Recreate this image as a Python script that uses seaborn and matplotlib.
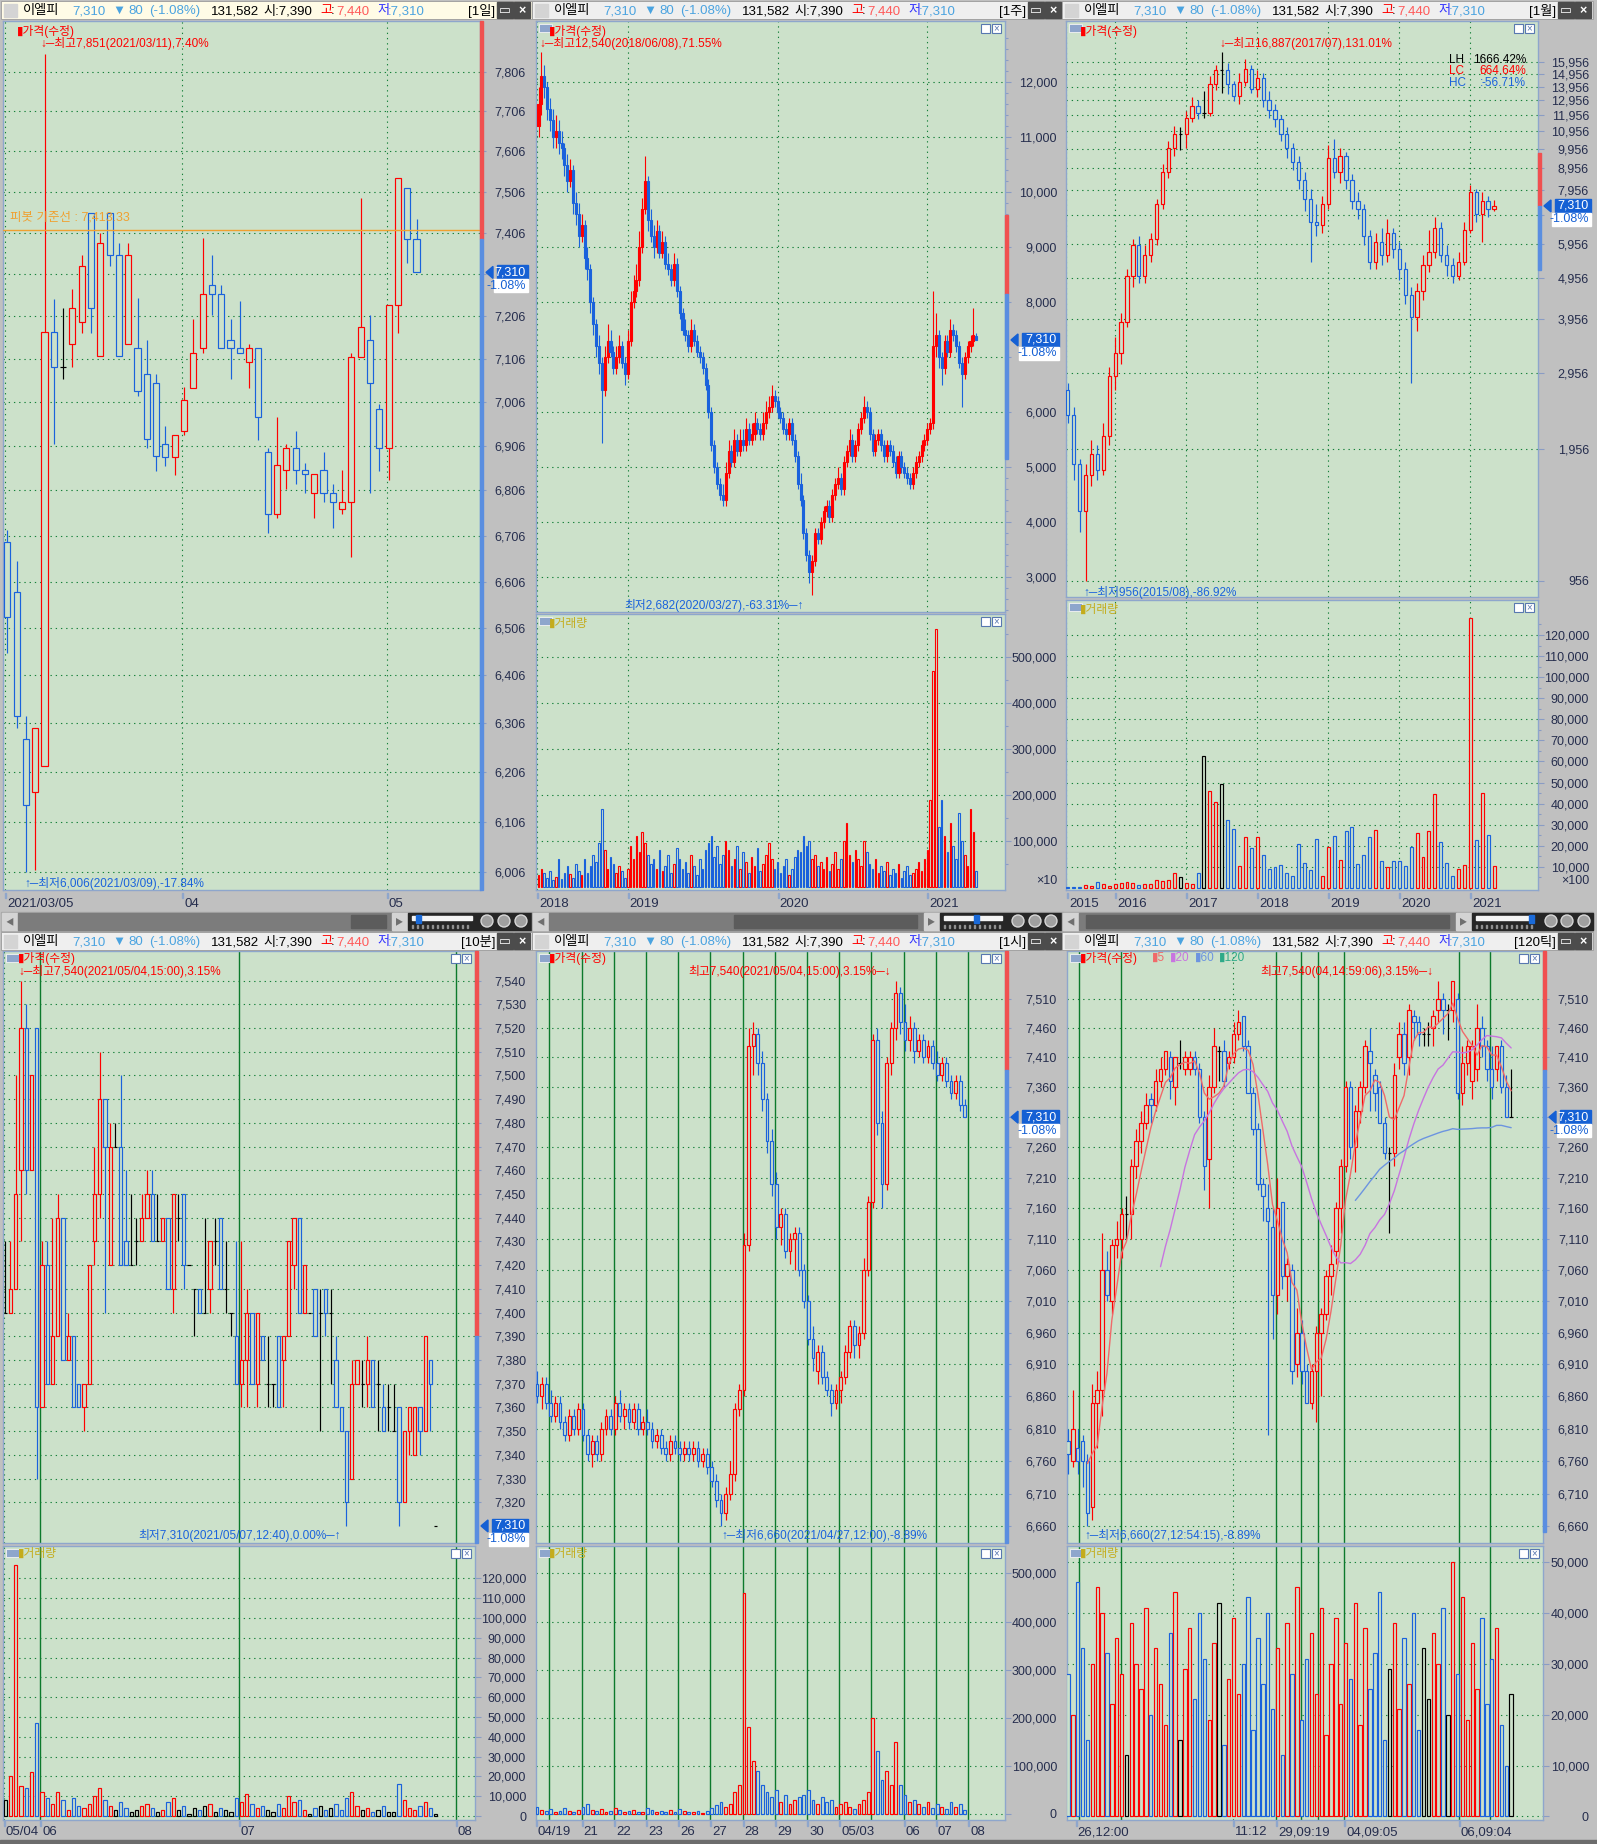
import numpy as np
import pandas as pd
import matplotlib
matplotlib.use("Agg")
import matplotlib.pyplot as plt
from matplotlib.patches import Rectangle, Polygon, Ellipse
from matplotlib.ticker import FixedLocator, FixedFormatter, NullFormatter, NullLocator
import seaborn as sns

# ---------------- data: daily (1일) ----------------
d_open = [6693, 6584, 6274, 6165, 6218, 7168, 7088, 7140, 7193, 7453, 7112, 7453, 7352, 7140, 7130,
          7070, 7051, 6910, 6880, 6940, 7039, 7130, 7280, 7258, 7150, 7130, 7099, 7130, 6892, 6754,
          6852, 6902, 6852, 6800, 6852, 6800, 6764, 6781, 7109, 7150, 6990, 6902, 7232, 7515, 7390]
d_high = [6719, 6650, 6322, 6296, 7851, 7246, 7226, 7270, 7352, 7453, 7405, 7453, 7380, 7380, 7250,
          7150, 7070, 6951, 6931, 7040, 7200, 7393, 7352, 7280, 7200, 7242, 7140, 7130, 6902, 6972,
          6910, 6940, 6868, 6843, 6892, 6820, 6852, 7120, 7490, 7209, 7002, 7232, 7539, 7515, 7440]
d_low = [6454, 6296, 6006, 6010, 6218, 6911, 7060, 7088, 7166, 7166, 7112, 7325, 7112, 7140, 7021,
         6902, 6850, 6860, 6840, 6930, 7039, 7120, 7209, 7130, 7060, 7120, 7039, 6920, 6712, 6745,
         6810, 6820, 6800, 6745, 6780, 6722, 6753, 6660, 7109, 6800, 6850, 6830, 7166, 7333, 7310]
d_close = [6530, 6322, 6139, 6296, 7168, 7088, 7088, 7226, 7325, 7226, 7380, 7352, 7112, 7352, 7031,
           6922, 6883, 6880, 6931, 7010, 7120, 7258, 7258, 7130, 7130, 7120, 7130, 6972, 6754, 6863,
           6902, 6852, 6843, 6843, 6800, 6781, 6781, 7109, 7180, 7051, 6902, 7232, 7539, 7390, 7310]
d_ticks = list(range(6006, 7807, 100))
d_xlabels = [("2021/03/05", -0.2), ("04", 18.8), ("05", 40.8)]

# ---------------- data: weekly (1주) ----------------
wk_open = [11200, 11600, 12100, 11900, 11500, 11300, 11000, 11100, 10900, 10800,
           10500, 10200, 10400, 9800, 9600, 9200, 9400, 8800, 8600, 8000,
           7600, 7200, 6900, 6400, 7000, 7300, 7100, 6800, 7000, 7200,
           6900, 6700, 7300, 8000, 8200, 8400, 9000, 9700, 10200, 9500,
           9200, 9000, 9300, 8900, 9100, 8700, 8600, 8400, 8700, 8200,
           7800, 7500, 7400, 7200, 7500, 7300, 7100, 7000, 6800, 6500,
           6000, 5400, 5000, 4700, 4500, 4400, 4900, 5300, 5100, 5500,
           5300, 5500, 5400, 5700, 5500, 5600, 5800, 5700, 5600, 5800,
           6000, 6100, 6300, 6200, 6000, 5900, 5700, 5600, 5800, 5500,
           5200, 4700, 4400, 3800, 3400, 3100, 3300, 3800, 3700, 4000,
           4200, 4300, 4100, 4500, 4700, 4800, 4600, 5100, 5300, 5500,
           5200, 5400, 5700, 5900, 6100, 6000, 5600, 5300, 5500, 5600,
           5400, 5200, 5400, 5300, 5100, 4900, 5200, 5000, 4900, 4800,
           4700, 4900, 5100, 5200, 5400, 5500, 5700, 5800, 7200, 7400,
           7000, 6800, 7300, 7100, 7500, 7400, 7200, 6900, 6700, 7000,
           7200, 7300, 7390]
wk_high = [11900, 12540, 12300, 12000, 11700, 11500, 11400, 11300, 11100, 10900,
           10700, 10600, 10500, 10000, 9800, 9600, 9500, 9000, 8700, 8100,
           7700, 7400, 7000, 7200, 7600, 7500, 7200, 7200, 7400, 7300,
           7000, 7500, 8200, 8500, 8700, 9300, 9900, 10650, 10300, 9700,
           9400, 9500, 9400, 9300, 9200, 8900, 8700, 8900, 8800, 8300,
           7900, 7700, 7500, 7700, 7600, 7400, 7200, 7100, 6900, 6600,
           6100, 5500, 5100, 4800, 4700, 5100, 5500, 5400, 5700, 5600,
           5700, 5700, 5900, 5800, 5800, 6000, 5900, 5800, 6000, 6200,
           6300, 6500, 6400, 6300, 6100, 6000, 5800, 5900, 5900, 5600,
           5300, 4900, 4500, 3900, 3500, 3400, 3900, 3900, 4100, 4300,
           4400, 4400, 4600, 4800, 5000, 4900, 5200, 5400, 5700, 5600,
           5500, 5800, 6000, 6300, 6200, 6100, 5700, 5600, 5700, 5700,
           5500, 5500, 5500, 5400, 5200, 5300, 5300, 5100, 5000, 4900,
           5000, 5200, 5300, 5500, 5600, 5800, 5900, 8200, 7800, 7500,
           7100, 7400, 7400, 7700, 7600, 7500, 7300, 7000, 7100, 7300,
           7400, 7900, 7440]
wk_low = [11000, 11400, 11700, 11300, 11100, 10800, 10800, 10700, 10600, 10300,
          10000, 10100, 9600, 9400, 9000, 9100, 8600, 8400, 7800, 7400,
          7000, 6700, 5430, 6300, 6900, 7000, 6700, 6700, 6900, 6800,
          6500, 6600, 7200, 7900, 8100, 8300, 8900, 9600, 9300, 9100,
          8800, 8900, 8800, 8800, 8600, 8500, 8300, 8300, 8100, 7700,
          7400, 7300, 7100, 7100, 7200, 7000, 6900, 6700, 6400, 5900,
          5300, 4900, 4600, 4400, 4300, 4300, 4800, 5000, 5000, 5200,
          5200, 5300, 5300, 5400, 5400, 5500, 5600, 5500, 5500, 5700,
          5900, 6000, 6100, 5900, 5800, 5600, 5500, 5500, 5400, 5100,
          4600, 4300, 3700, 3300, 2900, 2682, 3200, 3600, 3600, 3900,
          4100, 4000, 4000, 4400, 4600, 4500, 4500, 5000, 5200, 5100,
          5100, 5300, 5600, 5800, 5900, 5500, 5200, 5200, 5400, 5300,
          5100, 5100, 5200, 5000, 4800, 4800, 4900, 4800, 4700, 4600,
          4600, 4800, 5000, 5100, 5300, 5400, 5600, 5700, 7000, 6800,
          6500, 6700, 7000, 7000, 7300, 7100, 6800, 6100, 6600, 6900,
          7100, 7200, 7310]
wk_close = [11600, 12100, 11900, 11500, 11300, 11000, 11100, 10900, 10800, 10500,
            10200, 10400, 9800, 9600, 9200, 9400, 8800, 8600, 8000, 7600,
            7200, 6900, 6400, 7000, 7300, 7100, 6800, 7000, 7200, 6900,
            6700, 7300, 8000, 8200, 8400, 9000, 9700, 10200, 9500, 9200,
            9000, 9300, 8900, 9100, 8700, 8600, 8400, 8700, 8200, 7800,
            7500, 7400, 7200, 7500, 7300, 7100, 7000, 6800, 6500, 6000,
            5400, 5000, 4700, 4500, 4400, 4900, 5300, 5100, 5500, 5300,
            5500, 5400, 5700, 5500, 5600, 5800, 5700, 5600, 5800, 6000,
            6100, 6300, 6200, 6000, 5900, 5700, 5600, 5800, 5500, 5200,
            4700, 4400, 3800, 3400, 3100, 3300, 3800, 3700, 4000, 4200,
            4300, 4100, 4500, 4700, 4800, 4600, 5100, 5300, 5500, 5200,
            5400, 5700, 5900, 6100, 6000, 5600, 5300, 5500, 5600, 5400,
            5200, 5400, 5300, 5100, 4900, 5200, 5000, 4900, 4800, 4700,
            4900, 5100, 5200, 5400, 5500, 5700, 5800, 7200, 7400, 7000,
            6800, 7300, 7100, 7500, 7400, 7200, 6900, 6700, 7000, 7200,
            7300, 7400, 7310]
wk_vol = [25000, 40000, 30000, 20000, 35000, 15000, 22000, 60000, 18000, 30000,
          45000, 28000, 20000, 50000, 35000, 25000, 60000, 30000, 45000, 70000,
          55000, 95000, 170000, 80000, 40000, 65000, 50000, 30000, 45000, 35000,
          20000, 40000, 90000, 60000, 110000, 75000, 120000, 95000, 70000, 50000,
          60000, 40000, 80000, 35000, 45000, 70000, 30000, 50000, 85000, 60000,
          40000, 55000, 30000, 70000, 45000, 25000, 60000, 40000, 80000, 95000,
          110000, 65000, 90000, 50000, 70000, 100000, 80000, 45000, 60000, 90000,
          40000, 75000, 55000, 30000, 65000, 45000, 85000, 35000, 50000, 70000,
          95000, 60000, 40000, 55000, 30000, 45000, 60000, 25000, 40000, 65000,
          80000, 75000, 110000, 90000, 100000, 60000, 70000, 45000, 55000, 40000,
          65000, 35000, 50000, 75000, 40000, 60000, 100000, 140000, 70000, 55000,
          80000, 60000, 45000, 100000, 75000, 50000, 40000, 60000, 30000, 45000,
          35000, 55000, 25000, 40000, 30000, 50000, 20000, 35000, 45000, 25000,
          30000, 40000, 55000, 35000, 60000, 80000, 190000, 470000, 560000, 130000,
          190000, 110000, 75000, 140000, 90000, 60000, 160000, 100000, 70000, 45000,
          170000, 120000, 35000]
wk_ticks = list(range(3000, 12001, 1000))
wk_vticks = [100000, 200000, 300000, 400000, 500000]
wk_xlabels = [("2018", -0.5), ("2019", 31), ("2020", 83), ("2021", 135)]

# ---------------- data: monthly (1월) ----------------
mo_open = [2700, 2350, 1800, 1400, 1700, 1900, 1750, 2100, 2900, 3300,
           3900, 5000, 5900, 5000, 5600, 6100, 7400, 8800, 10000, 10800,
           10800, 11800, 12600, 12100, 12100, 14200, 15300, 15300, 14200, 13300,
           14300, 15400, 13800, 14600, 13000, 12300, 11700, 10800, 10000, 9300,
           8400, 7600, 6700, 6600, 7400, 9500, 8800, 9600, 8400, 7500,
           7200, 6200, 5400, 6000, 5600, 6300, 5800, 5200, 4500, 4000,
           4600, 5300, 5700, 6500, 5600, 5300, 5000, 5400, 6400, 7900,
           7000, 7500, 7200]
mo_high = [2800, 2450, 1850, 1800, 2050, 2000, 2250, 3050, 3600, 4100,
           5200, 6100, 6200, 5900, 6300, 7600, 9200, 10400, 11300, 11200,
           12200, 13200, 13000, 13600, 14800, 15700, 16887, 15900, 14400, 15000,
           16200, 15700, 15300, 15000, 13600, 12700, 12000, 11200, 10300, 9600,
           8800, 8000, 7400, 7700, 10200, 10500, 10000, 9800, 8700, 7900,
           7400, 6400, 6300, 6500, 6800, 6500, 6000, 5400, 4700, 4800,
           5600, 6400, 6900, 6700, 5900, 5500, 5700, 6700, 8200, 8000,
           7900, 7700, 7540]
mo_low = [2250, 1650, 1250, 956, 1600, 1650, 1700, 2000, 2700, 3100,
          3800, 4700, 4800, 4800, 5400, 5900, 7200, 8500, 9600, 9900,
          10000, 11500, 11700, 11800, 11900, 13700, 13500, 13400, 12900, 12700,
          14000, 13500, 13200, 12500, 11800, 11200, 10400, 9500, 8900, 8000,
          7100, 5400, 6200, 6300, 7200, 8500, 8300, 8000, 7200, 6800,
          5900, 5200, 5200, 5300, 5400, 5500, 4900, 4300, 2800, 3700,
          4400, 5100, 5500, 5400, 5000, 4800, 4900, 5300, 6300, 6700,
          6006, 6900, 7100]
mo_close = [2350, 1800, 1400, 1700, 1900, 1750, 2100, 2900, 3300, 3900,
            5000, 5900, 5000, 5600, 6100, 7400, 8800, 10000, 10800, 10800,
            11800, 12600, 12100, 12100, 14200, 15300, 15300, 14200, 13300, 14300,
            15400, 13800, 14600, 13000, 12300, 11700, 10800, 10000, 9300, 8400,
            7600, 6700, 6600, 7400, 9500, 8800, 9600, 8400, 7500, 7200,
            6200, 5400, 6000, 5600, 6300, 5800, 5200, 4500, 4000, 4600,
            5300, 5700, 6500, 5600, 5300, 5000, 5400, 6400, 7900, 7000,
            7500, 7200, 7310]
mo_vol = [300, 400, 500, 1500, 800, 2700, 2000, 1000, 1700, 2300,
          3000, 2300, 1400, 1700, 1700, 3600, 3300, 3600, 7000, 5000,
          2600, 1800, 7300, 62800, 45800, 40700, 49100, 32300, 28100, 10300,
          24300, 19000, 24300, 15800, 9000, 9800, 11000, 7200, 5900, 21000,
          12000, 8700, 23400, 5900, 19600, 24700, 13100, 27100, 29000, 11500,
          15800, 24300, 27600, 12600, 10000, 12900, 12900, 10300, 19600, 26300,
          14900, 26800, 44800, 22000, 12000, 5900, 9200, 11000, 128000, 22600,
          45000, 25300, 10300]
mo_ticks = [956 + 1000 * k for k in range(16)]
mo_vticks = list(range(10000, 120001, 10000))
mo_xlabels = [("2015", -0.2), ("2016", 8), ("2017", 20), ("2018", 32), ("2019", 44), ("2020", 56), ("2021", 68)]

# ---------------- data: 10 minute (10분) ----------------
m10_open = [7400, 7400, 7410, 7460, 7520, 7460, 7520, 7360, 7420, 7370,
            7390, 7440, 7380, 7390, 7370, 7360, 7370, 7430, 7450, 7490,
            7420, 7470, 7470, 7430, 7420, 7430, 7430, 7440, 7450, 7430,
            7430, 7440, 7410, 7440, 7450, 7420, 7410, 7410, 7400, 7410,
            7430, 7440, 7410, 7400, 7390, 7370, 7380, 7400, 7370, 7390,
            7370, 7370, 7390, 7380, 7390, 7420, 7440, 7400, 7400, 7410,
            7400, 7410, 7400, 7380, 7360, 7350, 7330, 7370, 7370, 7370,
            7380, 7370, 7360, 7360, 7350, 7360, 7320, 7350, 7340, 7360,
            7350, 7380, 7310]
m10_high = [7430, 7430, 7500, 7540, 7530, 7500, 7520, 7430, 7430, 7440,
            7450, 7440, 7400, 7390, 7370, 7370, 7420, 7470, 7510, 7490,
            7480, 7480, 7500, 7460, 7450, 7440, 7450, 7460, 7460, 7450,
            7440, 7440, 7450, 7450, 7450, 7420, 7410, 7410, 7440, 7430,
            7440, 7440, 7430, 7400, 7430, 7430, 7410, 7400, 7400, 7390,
            7390, 7370, 7390, 7390, 7430, 7440, 7440, 7420, 7400, 7410,
            7410, 7410, 7410, 7390, 7360, 7350, 7380, 7380, 7380, 7390,
            7380, 7380, 7370, 7370, 7370, 7360, 7350, 7360, 7360, 7360,
            7390, 7380, 7310]
m10_low = [7400, 7400, 7410, 7430, 7450, 7460, 7330, 7360, 7370, 7370,
           7390, 7380, 7380, 7360, 7360, 7350, 7370, 7420, 7440, 7400,
           7420, 7470, 7420, 7420, 7420, 7420, 7430, 7440, 7430, 7430,
           7430, 7410, 7400, 7430, 7410, 7420, 7390, 7400, 7400, 7400,
           7420, 7410, 7400, 7390, 7370, 7360, 7360, 7370, 7360, 7380,
           7360, 7360, 7360, 7360, 7390, 7410, 7400, 7400, 7400, 7390,
           7350, 7390, 7370, 7360, 7350, 7310, 7330, 7370, 7360, 7360,
           7360, 7350, 7350, 7350, 7350, 7310, 7320, 7340, 7340, 7340,
           7350, 7350, 7310]
m10_close = [7400, 7410, 7450, 7520, 7460, 7500, 7360, 7420, 7370, 7390,
             7440, 7380, 7390, 7360, 7360, 7370, 7420, 7450, 7490, 7470,
             7470, 7470, 7420, 7420, 7420, 7430, 7440, 7450, 7430, 7430,
             7440, 7410, 7450, 7440, 7420, 7420, 7410, 7400, 7400, 7430,
             7430, 7410, 7410, 7400, 7370, 7380, 7400, 7370, 7400, 7380,
             7370, 7370, 7360, 7390, 7430, 7440, 7400, 7420, 7400, 7390,
             7400, 7400, 7400, 7360, 7350, 7320, 7370, 7380, 7370, 7380,
             7360, 7370, 7350, 7360, 7350, 7320, 7350, 7360, 7360, 7350,
             7390, 7370, 7310]
m10_vol = [8000, 20000, 127000, 15000, 14000, 22000, 47000, 12000, 9000, 6000,
           12000, 8000, 3000, 9000, 5000, 4000, 6000, 10000, 14000, 8000,
           5000, 3000, 7000, 4000, 2000, 3000, 5000, 6000, 4000, 2000,
           3000, 7000, 9000, 3000, 5000, 1000, 4000, 3000, 5000, 6000,
           2000, 4000, 3000, 2000, 9000, 7000, 11000, 6000, 4000, 5000,
           3000, 2000, 6000, 4000, 10000, 7000, 8000, 3000, 1000, 4000,
           5000, 3000, 4000, 6000, 3000, 9000, 12000, 5000, 3000, 4000,
           2000, 3000, 5000, 2000, 2000, 16000, 8000, 4000, 3000, 5000,
           7000, 4000, 1000]
m10_ticks = list(range(7320, 7541, 10))
m10_vticks = [0] + list(range(10000, 120001, 10000))
m10_days = [6.7, 44.5, 85.8]
m10_xlabels = [("05/04", -0.4), ("06", 6.7), ("07", 44.5), ("08", 85.8)]

# ---------------- data: 1 hour (1시) ----------------
h1_open = [6880, 6860, 6880, 6850, 6830, 6850, 6820, 6800, 6830, 6810,
           6840, 6800, 6770, 6790, 6770, 6810, 6830, 6810, 6850, 6830,
           6840, 6820, 6840, 6810, 6820, 6810, 6790, 6800, 6780, 6770,
           6790, 6780, 6770, 6780, 6770, 6780, 6760, 6770, 6750, 6730,
           6700, 6680, 6710, 6740, 6840, 6870, 7100, 7430, 7450, 7400,
           7340, 7270, 7200, 7130, 7150, 7090, 7110, 7120, 7060, 7010,
           6950, 6900, 6930, 6890, 6870, 6850, 6870, 6890, 6930, 6970,
           6940, 6960, 7060, 7170, 7440, 7300, 7200, 7400, 7460, 7520,
           7470, 7440, 7460, 7420, 7440, 7410, 7430, 7400, 7380, 7400,
           7370, 7350, 7370, 7330]
h1_high = [6900, 6890, 6890, 6870, 6860, 6860, 6830, 6840, 6840, 6850,
           6850, 6810, 6800, 6800, 6820, 6840, 6840, 6860, 6870, 6850,
           6850, 6850, 6850, 6830, 6840, 6820, 6810, 6810, 6790, 6800,
           6800, 6790, 6790, 6790, 6790, 6790, 6780, 6780, 6760, 6740,
           6710, 6720, 6760, 6850, 6880, 7120, 7460, 7470, 7460, 7420,
           7350, 7290, 7220, 7160, 7160, 7120, 7130, 7130, 7070, 7020,
           6970, 6940, 6940, 6900, 6880, 6880, 6900, 6940, 6980, 6980,
           6970, 7080, 7180, 7450, 7460, 7320, 7410, 7470, 7540, 7530,
           7500, 7480, 7470, 7450, 7450, 7440, 7440, 7420, 7410, 7410,
           7380, 7380, 7380, 7340]
h1_low = [6850, 6840, 6840, 6820, 6820, 6810, 6790, 6790, 6800, 6800,
          6790, 6760, 6750, 6760, 6760, 6800, 6800, 6800, 6820, 6810,
          6810, 6810, 6800, 6800, 6800, 6780, 6780, 6770, 6760, 6760,
          6770, 6760, 6760, 6760, 6760, 6750, 6750, 6740, 6720, 6690,
          6660, 6670, 6700, 6730, 6830, 6860, 7090, 7380, 7380, 7320,
          7250, 7180, 7110, 7100, 7080, 7070, 7060, 7050, 7000, 6940,
          6900, 6880, 6880, 6860, 6830, 6840, 6850, 6880, 6920, 6920,
          6920, 6950, 7050, 7160, 7280, 7160, 7190, 7380, 7440, 7450,
          7420, 7420, 7400, 7410, 7400, 7400, 7390, 7370, 7370, 7360,
          7340, 7340, 7320, 7310]
h1_close = [6860, 6880, 6850, 6830, 6850, 6820, 6800, 6830, 6810, 6840,
            6800, 6770, 6790, 6770, 6810, 6830, 6810, 6850, 6830, 6840,
            6820, 6840, 6810, 6820, 6810, 6790, 6800, 6780, 6770, 6790,
            6780, 6770, 6780, 6770, 6780, 6760, 6770, 6750, 6730, 6700,
            6680, 6710, 6740, 6840, 6870, 7100, 7430, 7450, 7400, 7340,
            7270, 7200, 7130, 7150, 7090, 7110, 7120, 7060, 7010, 6950,
            6920, 6930, 6890, 6870, 6850, 6870, 6890, 6930, 6970, 6940,
            6960, 7060, 7170, 7440, 7300, 7200, 7400, 7460, 7520, 7470,
            7440, 7460, 7420, 7440, 7410, 7430, 7400, 7380, 7400, 7370,
            7350, 7370, 7330, 7310]
h1_vol = [15000, 8000, 6000, 10000, 5000, 7000, 12000, 6000, 4000, 9000,
          14000, 20000, 8000, 6000, 10000, 5000, 7000, 12000, 8000, 5000,
          6000, 9000, 4000, 5000, 12000, 8000, 5000, 6000, 4000, 9000,
          5000, 10000, 6000, 4000, 5000, 7000, 3000, 6000, 12000, 18000,
          25000, 15000, 20000, 45000, 60000, 460000, 180000, 110000, 90000, 60000,
          45000, 35000, 50000, 25000, 40000, 20000, 30000, 35000, 40000, 50000,
          30000, 20000, 35000, 25000, 30000, 15000, 20000, 25000, 15000, 10000,
          20000, 30000, 45000, 200000, 130000, 70000, 90000, 60000, 150000, 60000,
          40000, 25000, 30000, 20000, 15000, 25000, 12000, 20000, 15000, 10000,
          25000, 15000, 20000, 8000]
h1_ticks = list(range(6660, 7511, 50))
h1_vticks = [0, 100000, 200000, 300000, 400000, 500000]
h1_days = [3, 10, 17, 24, 31, 38, 45, 52, 59, 66, 73, 80, 87, 94]
h1_xlabels = [("04/19", -0.3), ("21", 9.7), ("22", 16.7), ("23", 23.7), ("26", 30.7), ("27", 37.7),
              ("28", 44.7), ("29", 51.7), ("30", 58.7), ("05/03", 65.7), ("06", 79.7), ("07", 86.7),
              ("08", 93.7)]

# ---------------- data: 120 tick (120틱) ----------------
tk_open = [6790, 6760, 6780, 6790, 6760, 6690, 6850, 6870, 7060, 7010,
           7100, 7110, 7150, 7150, 7230, 7270, 7300, 7340, 7330, 7370,
           7390, 7410, 7360, 7400, 7390, 7390, 7410, 7390, 7310, 7240,
           7360, 7420, 7420, 7400, 7410, 7450, 7480, 7430, 7350, 7290,
           7200, 7160, 7130, 7020, 7170, 7050, 7060, 6910, 6960, 6900,
           6850, 6900, 6960, 6990, 7050, 7090, 7160, 7230, 7360, 7260,
           7320, 7360, 7420, 7380, 7360, 7300, 7250, 7250, 7410, 7450,
           7410, 7480, 7470, 7450, 7450, 7460, 7490, 7510, 7490, 7490,
           7510, 7350, 7400, 7370, 7390, 7460, 7430, 7390, 7390, 7430,
           7360, 7310]
tk_high = [6810, 6870, 6810, 6800, 6770, 6880, 6900, 7120, 7090, 7110,
           7140, 7160, 7180, 7240, 7290, 7320, 7350, 7350, 7390, 7410,
           7420, 7420, 7410, 7440, 7420, 7420, 7420, 7400, 7320, 7380,
           7460, 7430, 7440, 7420, 7470, 7490, 7480, 7440, 7360, 7300,
           7210, 7200, 7160, 7210, 7170, 7080, 7070, 7000, 6980, 6910,
           6910, 6970, 7000, 7060, 7100, 7170, 7240, 7370, 7370, 7330,
           7370, 7440, 7460, 7390, 7370, 7310, 7260, 7400, 7470, 7470,
           7500, 7490, 7480, 7460, 7470, 7490, 7540, 7520, 7500, 7540,
           7520, 7430, 7440, 7440, 7500, 7480, 7440, 7430, 7430, 7440,
           7380, 7390]
tk_low = [6740, 6750, 6740, 6720, 6660, 6670, 6780, 6830, 7010, 6990,
          7080, 7080, 7110, 7110, 7210, 7250, 7290, 7300, 7320, 7360,
          7380, 7340, 7330, 7390, 7380, 7380, 7380, 7300, 7190, 7160,
          7350, 7370, 7360, 7390, 7400, 7440, 7420, 7360, 7280, 7190,
          7140, 6800, 6950, 6990, 7030, 7010, 6880, 6890, 6880, 6850,
          6840, 6820, 6860, 6980, 7020, 7070, 7120, 7220, 7240, 7220,
          7300, 7350, 7320, 7320, 7300, 7240, 7120, 7230, 7390, 7380,
          7380, 7440, 7430, 7430, 7430, 7430, 7470, 7450, 7440, 7470,
          7340, 7330, 7380, 7340, 7370, 7410, 7370, 7340, 7370, 7350,
          7310, 7310]
tk_close = [6770, 6810, 6760, 6760, 6680, 6850, 6870, 7060, 7020, 7100,
            7110, 7150, 7150, 7230, 7270, 7300, 7330, 7330, 7370, 7390,
            7420, 7370, 7410, 7400, 7410, 7410, 7390, 7310, 7230, 7360,
            7430, 7420, 7370, 7410, 7450, 7470, 7430, 7350, 7290, 7200,
            7180, 7140, 7020, 7160, 7050, 7070, 6900, 6960, 6900, 6850,
            6900, 6960, 6990, 7050, 7070, 7160, 7230, 7360, 7260, 7320,
            7360, 7430, 7400, 7350, 7300, 7250, 7250, 7380, 7450, 7400,
            7490, 7470, 7450, 7450, 7450, 7480, 7510, 7490, 7490, 7540,
            7350, 7400, 7430, 7430, 7460, 7430, 7390, 7360, 7430, 7360,
            7310, 7310]
tk_vol = [28000, 20000, 46000, 33000, 15000, 30000, 45000, 40000, 32000, 22000,
          35000, 28000, 12000, 38000, 30000, 25000, 41000, 20000, 33000, 26000,
          18000, 36000, 44000, 15000, 29000, 37000, 23000, 40000, 31000, 19000,
          34000, 42000, 14000, 27000, 39000, 24000, 30000, 43000, 17000, 35000,
          26000, 40000, 21000, 33000, 12000, 38000, 28000, 45000, 19000, 31000,
          36000, 24000, 41000, 16000, 30000, 39000, 22000, 34000, 27000, 42000,
          18000, 37000, 25000, 32000, 44000, 15000, 29000, 38000, 21000, 35000,
          26000, 40000, 17000, 33000, 23000, 36000, 30000, 41000, 20000, 50000,
          28000, 43000, 19000, 34000, 25000, 39000, 22000, 31000, 37000, 18000,
          10000, 24000]
tk_ticks = list(range(6660, 7511, 50))
tk_vticks = [0, 10000, 20000, 30000, 40000, 50000]
tk_days = [2.26, 10.9, 42.7, 47.8, 51.3, 56.7, 80.2, 86.6]
tk_xlabels = [("26,12:00", 1.6), ("11:12", 33.9), ("29,09:19", 42.7), ("04,09:05", 56.7), ("06,09:04", 80.2)]
ma_periods = [5, 20, 60]

# ---------------- style ----------------
W, H = 1597, 1844
BG = "#cce1ca"
GREY = "#c0c0c0"
RED = "#ff0000"
BLUE = "#1a62dc"
BLACK = "#000000"
TAGBLUE = "#1560d4"
HBLUE = "#4aa3e0"
NAVY = "#252d4d"
GRID = "#16803a"
DAYLINE = "#0c7a2c"
TICKC = "#8a9cc4"
BORDER = "#8ea6cc"
VOLTXT = "#c4ac1c"

sns.set_theme(style="white", rc={"figure.facecolor": GREY, "axes.facecolor": BG})
plt.rcParams["font.family"] = ["Liberation Sans", "Noto Sans CJK KR", "DejaVu Sans"]

fig = plt.figure(figsize=(W / 100, H / 100), dpi=100)
fig.patch.set_facecolor(GREY)


def rect(x, y, w, h, **kw):
    fig.add_artist(Rectangle((x / W, 1 - (y + h) / H), w / W, h / H, transform=fig.transFigure, **kw))


def ftext(x, y, s, **kw):
    kw.setdefault("va", "center")
    kw.setdefault("fontsize", 8.5)
    fig.text(x / W, 1 - y / H, s, **kw)


def make_ax(x0, y0, x1, y1, a, b):
    ax = fig.add_axes([x0 / W, 1 - y1 / H, (x1 - x0) / W, (y1 - y0) / H])
    ax.set_facecolor(BG)
    ax.set_xlim((x0 - a) / b, (x1 - a) / b)
    for s in ax.spines.values():
        s.set_color(BORDER)
        s.set_linewidth(1.0)
    ax.tick_params(bottom=False, labelbottom=False, left=False, labelleft=False)
    return ax


def yaxis(ax, lo, hi, ticks, x_right, lab_right, log=False, minor=(), hide=()):
    if log:
        ax.set_yscale("log")
    ax.set_ylim(lo, hi)
    ax.yaxis.set_major_locator(FixedLocator(ticks))
    ax.yaxis.set_minor_locator(FixedLocator(list(minor)) if len(minor) else NullLocator())
    ax.yaxis.set_major_formatter(FixedFormatter(["" if t in hide else f"{t:,}" for t in ticks]))
    ax.yaxis.set_minor_formatter(NullFormatter())
    ax.yaxis.tick_right()
    L = 4
    ax.tick_params(axis="y", which="both", right=True, labelright=True, left=False, labelleft=False,
                   direction="out", color=TICKC, width=0.8, length=L, labelsize=9, labelcolor=NAVY,
                   pad=(lab_right - x_right) * 0.72 - L)
    ax.tick_params(axis="y", which="minor", length=2.5)
    for t in ax.get_yticklabels():
        t.set_horizontalalignment("right")
    for t in ticks:
        if lo < t < hi:
            ax.axhline(t, color=GRID, lw=0.8, ls=(0, (1.2, 3.5)), zorder=1)


def vdots(ax, xs):
    for x in xs:
        ax.axvline(x, color=GRID, lw=0.8, ls=(0, (1.2, 3.5)), zorder=1)


def vsolid(ax, xs):
    for x in xs:
        ax.axvline(x, color=DAYLINE, lw=1.0, zorder=1)


def candles(ax, o, h, l, c, width, filled=False, lw=0.85):
    o, h, l, c = map(np.asarray, (o, h, l, c))
    x = np.arange(len(o))
    col = [RED if cc > oo else BLUE if cc < oo else BLACK for oo, cc in zip(o, c)]
    ax.vlines(x, l, h, colors=col, lw=lw, zorder=3)
    lo = np.minimum(o, c)
    ax.bar(x, np.maximum(o, c) - lo, bottom=lo, width=width,
           color=col if filled else BG, edgecolor=col, linewidth=lw, zorder=4)
    return col


def volume(ax, v, col, width, lw=0.85):
    ax.bar(np.arange(len(v)), v, width=width, color=BG, edgecolor=col, linewidth=lw, zorder=3)


def ypix(ax, v):
    return H - ax.transData.transform((ax.get_xlim()[0], v))[1]


def price_tag(ax, bar_x, right_x, v=7310):
    y = ypix(ax, v)
    fig.add_artist(Polygon([[(bar_x + 3) / W, 1 - y / H], [(bar_x + 10) / W, 1 - (y - 6) / H],
                            [(bar_x + 10) / W, 1 - (y + 6) / H]], closed=True,
                           transform=fig.transFigure, color=TAGBLUE))
    rect(bar_x + 14, y - 7, right_x - bar_x - 12, 14, color=TAGBLUE)
    ftext(right_x, y, "7,310", ha="right", color="white", fontsize=9)
    rect(bar_x + 11, y + 7, right_x - bar_x - 9, 13, color="white")
    ftext(right_x, y + 13.5, "-1.08%", ha="right", color=TAGBLUE, fontsize=9)


def side_bar(x, y0, ymid, y1):
    rect(x, y0, 3, ymid - y0, color="#f05050")
    rect(x, ymid, 3, y1 - ymid, color="#5a8ee0")


def icons(x0, y0, x1, right=True):
    rect(x0 + 3, y0 + 3, 13, 8, color=BORDER, ec="#f4f4f4", lw=0.6)
    if right:
        for dx in (24, 13):
            rect(x1 - dx, y0 + 3, 9, 9, color="white", ec="#5878b0", lw=0.8)
        ftext(x1 - 8.5, y0 + 7.5, "×", ha="center", color="#5878b0", fontsize=7)


def header(x0, y0, tag, cream=False):
    rect(x0 + 1, y0 + 1, 531, 18, color="#fffbe6" if cream else "#efefef", ec="#9a9a9a", lw=0.6)
    rect(x0 + 4, y0 + 4, 13, 13, color="#d4d4d4")
    yc = y0 + 11
    parts = [(23, "이엘피", "black"), (72, "7,310", HBLUE), (112, "▼", HBLUE), (128, "80", HBLUE),
             (149, "(-1.08%)", HBLUE), (211, "131,582", "black"), (263, "시:7,390", "black"),
             (320, "고", RED), (331, ":", "black"), (336, "7,440", "#ff5a5a"),
             (377, "저", "#3030ff"), (388, ":7,310", HBLUE)]
    for dx, s, c in parts:
        ftext(x0 + dx, yc, s, color=c, fontsize=9.5)
    ftext(x0 + 495, yc, f"[{tag}]", ha="right", color="black", fontsize=9.5)
    for bx, g in ((497, "▭"), (514, "×")):
        rect(x0 + bx, y0 + 2, 16, 16, color="#4c4c4c")
        ftext(x0 + bx + 8, yc, g, ha="center", color="white", fontsize=9, fontweight="bold")


def scrollbar(x0, y0, t0, t1, s0, s1, knob, icon_x):
    rect(x0 + 1, y0, 531, 19, color="#a8a8a8")
    rect(x0 + 2, y0 + 1, 15, 17, color="#d4d4d4")
    ftext(x0 + 9.5, y0 + 10, "◀", ha="center", color="#707070", fontsize=6)
    rect(x0 + 18, y0 + 1, s0 - x0 - 38, 17, color="#7c7c7c")
    rect(t0, y0 + 3, t1 - t0, 13, color="#5c5c5c")
    rect(s0 - 20, y0 + 1, 15, 17, color="#d4d4d4")
    ftext(s0 - 12.5, y0 + 10, "▶", ha="center", color="#707070", fontsize=6)
    rect(s0 - 4, y0 + 1, x0 + 532 - s0 + 4, 17, color="#262626")
    rect(s0, y0 + 4, s1 - s0, 4, color="#f4f4f4")
    for k in range(0, int(s1 - s0), 5):
        rect(s0 + k, y0 + 13, 1, 3, color="#909090")
    rect(knob - 2, y0 + 3, 5, 8, color="#1a6ad8")
    for ix in icon_x:
        fig.add_artist(Ellipse((ix / W, 1 - (y0 + 9) / H), 12 / W, 12 / H, transform=fig.transFigure,
                               fc="#a0a0a0", ec="#d8d8d8", lw=1))


def xlabels(lst, a, b, y, x_min):
    for s, i in lst:
        px = max(a + b * i, x_min)
        rect(px, y - 10, 1, 5, color=BORDER)
        ftext(px + 2, y + 1, s, color=NAVY, fontsize=9.5)


def korean(x, y, s, color):
    ftext(x, y, s, color=color, fontsize=8.5)


# ================= top-left: daily =================
header(0, 0, "1일", cream=True)
ax = make_ax(3, 21, 480, 890, 7.3, 9.3)
yaxis(ax, 5971, 7937.5, d_ticks, 480, 526, log=True, minor=[t + 50 for t in d_ticks[:-1]], hide=[7306])
vdots(ax, [-0.3, 18.8, 40.8])
candles(ax, d_open, d_high, d_low, d_close, 0.65)
ax.axhline(7413.33, color="#f0a030", lw=1.0, zorder=5)
side_bar(480, 21, 239, 890)
price_tag(ax, 483, 526)
korean(17, 31, "▮가격(수정)", RED)
korean(40, 43, "↓─최고7,851(2021/03/11),7.40%", RED)
korean(24, 883, "↑─최저6,006(2021/03/09),-17.84%", BLUE)
ftext(10, 218, "피봇 기준선 : 7,413.33", color="#f0a030", fontsize=9)
xlabels(d_xlabels, 7.3, 9.3, 903, 4)
scrollbar(0, 912, 351, 386, 412, 472, 418, [487, 504, 521])

# ================= top-middle: weekly =================
header(531, 0, "1주")
ax = make_ax(536, 21, 1005, 612, 538.5, 2.88)
yaxis(ax, 2364, 13109, wk_ticks, 1005, 1057, minor=list(range(2400, 13000, 200)), hide=[7000])
vdots(ax, [-0.6, 31, 83, 135])
wk_col = candles(ax, wk_open, wk_high, wk_low, wk_close, 0.72, filled=True, lw=0.8)
side_bar(1005, 215, 294, 459)
price_tag(ax, 1008, 1057)
icons(536, 21, 1005)
korean(549, 31, "▮가격(수정)", RED)
korean(539, 43, "↓─최고12,540(2018/06/08),71.55%", RED)
korean(624, 605, "최저2,682(2020/03/27),-63.31%─↑", BLUE)

axv = make_ax(536, 614, 1005, 890, 538.5, 2.88)
yaxis(axv, -6500, 593000, wk_vticks, 1005, 1057, minor=[50000, 150000, 250000, 350000, 450000, 550000])
vdots(axv, [-0.6, 31, 83, 135])
volume(axv, wk_vol, wk_col, 0.55, lw=0.8)
icons(536, 614, 1005)
korean(549, 624, "▮거래량", VOLTXT)
ftext(1057, 881, "×10", ha="right", color=NAVY, fontsize=9)
xlabels(wk_xlabels, 538.5, 2.88, 903, 536)
scrollbar(531, 912, 734, 917, 944, 1002, 976, [1018, 1035, 1051])

# ================= top-right: monthly =================
header(1061, 0, "1월")
ax = make_ax(1066, 21, 1538, 597, 1067.8, 5.92)
yaxis(ax, 876.5, 19930, mo_ticks, 1538, 1589, log=True, hide=[6956])
vdots(ax, [-0.3, 8, 20, 32, 44, 56, 68])
mo_col = candles(ax, mo_open, mo_high, mo_low, mo_close, 0.55)
side_bar(1538, 153, 206, 270)
price_tag(ax, 1541, 1589)
icons(1066, 21, 1538)
korean(1080, 31, "▮가격(수정)", RED)
korean(1219, 43, "↓─최고16,887(2017/07),131.01%", RED)
for yy, nm, val, c in ((60, "LH", "1666.42%", "black"), (71, "LC", "664.64%", RED), (83, "HC", "-56.71%", BLUE)):
    ftext(1449, yy, nm, color=c, fontsize=8.5)
    ftext(1480, yy, ":", color=c, fontsize=8.5)
    ftext(1526, yy, val, ha="right", color=c, fontsize=8.5)
korean(1083, 592, "↑─최저956(2015/08),-86.92%", BLUE)

axv = make_ax(1066, 600, 1538, 890, 1067.8, 5.92)
yaxis(axv, -950, 136600, mo_vticks, 1538, 1589, minor=[5000 + 10000 * k for k in range(13)])
vdots(axv, [-0.3, 8, 20, 32, 44, 56, 68])
volume(axv, mo_vol, mo_col, 0.5)
icons(1066, 600, 1538)
korean(1080, 610, "▮거래량", VOLTXT)
ftext(1589, 881, "×100", ha="right", color=NAVY, fontsize=9)
xlabels(mo_xlabels, 1067.8, 5.92, 903, 1067)
scrollbar(1061, 912, 1086, 1449, 1476, 1533, 1531, [1551, 1567, 1584])

# ================= bottom-left: 10 minute =================
header(0, 931, "10분")
ax = make_ax(3, 951, 475, 1543, 5.2, 5.25)
yaxis(ax, 7302.8, 7552.5, m10_ticks, 475, 526, hide=[7310])
vdots(ax, [-0.3])
vsolid(ax, m10_days)
m10_col = candles(ax, m10_open, m10_high, m10_low, m10_close, 0.6)
side_bar(475, 951, 1336, 1543)
price_tag(ax, 478, 526)
icons(3, 951, 475)
korean(18, 958, "▮가격(수정)", RED)
korean(18, 972, "↓─최고7,540(2021/05/04,15:00),3.15%", RED)
korean(138, 1536, "최저7,310(2021/05/07,12:40),0.00%─↑", BLUE)

axv = make_ax(3, 1546, 475, 1820, 5.2, 5.25)
yaxis(axv, -2000, 136400, m10_vticks, 475, 526)
vdots(axv, [-0.3])
vsolid(axv, m10_days)
volume(axv, m10_vol, m10_col, 0.6)
icons(3, 1546, 475)
korean(18, 1554, "▮거래량", VOLTXT)
xlabels(m10_xlabels, 5.2, 5.25, 1831, 4)

# ================= bottom-middle: 1 hour =================
header(531, 931, "1시")
ax = make_ax(536, 951, 1005, 1543, 537, 4.6)
yaxis(ax, 6635, 7591.6, h1_ticks, 1005, 1057, log=True, hide=[7310])
vsolid(ax, [d - 0.3 for d in h1_days])
h1_col = candles(ax, h1_open, h1_high, h1_low, h1_close, 0.62)
side_bar(1005, 951, 1070, 1543)
price_tag(ax, 1008, 1057)
icons(536, 951, 1005)
korean(549, 958, "▮가격(수정)", RED)
korean(688, 972, "최고7,540(2021/05/04,15:00),3.15%─↓", RED)
korean(721, 1536, "↑─최저6,660(2021/04/27,12:00),-8.89%", BLUE)

axv = make_ax(536, 1546, 1005, 1820, 537, 4.6)
yaxis(axv, -12500, 557000, h1_vticks, 1005, 1057)
vsolid(axv, [d - 0.3 for d in h1_days])
volume(axv, h1_vol, h1_col, 0.62)
icons(536, 1546, 1005)
korean(549, 1554, "▮거래량", VOLTXT)
xlabels(h1_xlabels, 537, 4.6, 1831, 536)

# ================= bottom-right: 120 tick =================
header(1061, 931, "120틱")
ax = make_ax(1067, 951, 1543, 1543, 1068, 4.87)
yaxis(ax, 6635, 7591.6, tk_ticks, 1543, 1589, log=True, hide=[7310])
vdots(ax, [33.9])
vsolid(ax, tk_days)
tk_col = candles(ax, tk_open, tk_high, tk_low, tk_close, 0.72)
closes = pd.Series(tk_close, dtype=float)
idx = np.arange(len(tk_close))
for p, c in zip(ma_periods, ["#f06a6a", "#c874e0", "#6c94e0"]):
    sns.lineplot(x=idx, y=closes.rolling(p).mean().to_numpy(), ax=ax, color=c, linewidth=1.0, zorder=6)
side_bar(1543, 951, 1070, 1532)
price_tag(ax, 1546, 1589)
icons(1067, 951, 1543)
for x, s, c in ((1080, "▮가격(수정)", RED), (1152, "▮5", "#f06a6a"), (1170, "▮20", "#c874e0"),
                (1195, "▮60", "#6c94e0"), (1219, "▮120", "#2eaa88")):
    korean(x, 958, s, c)
korean(1260, 972, "최고7,540(04,14:59:06),3.15%─↓", RED)
korean(1084, 1535, "↑─최저6,660(27,12:54:15),-8.89%", BLUE)

axv = make_ax(1067, 1546, 1543, 1820, 1068, 4.87)
yaxis(axv, -700, 53100, tk_vticks, 1543, 1589)
vdots(axv, [33.9])
vsolid(axv, tk_days)
volume(axv, tk_vol, tk_col, 0.7)
icons(1067, 1546, 1543)
korean(1080, 1554, "▮거래량", VOLTXT)
xlabels(tk_xlabels, 1068, 4.87, 1831, 1068)

# bottom edge strip
rect(0, 1840, W, 4, color="#6c6c6c")

fig.savefig("out.png", dpi=100, facecolor=GREY)
